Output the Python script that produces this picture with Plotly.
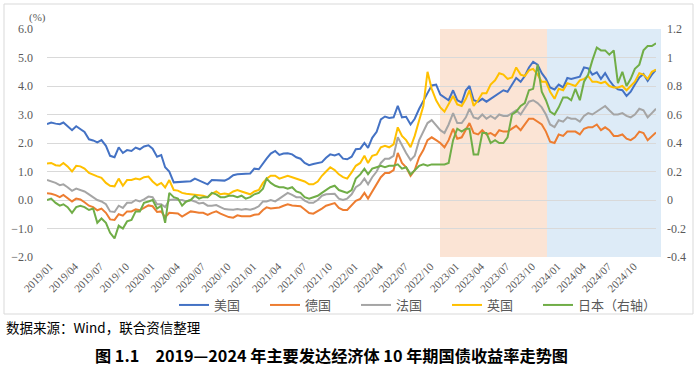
import plotly.graph_objects as go

# ---------------- data (semi-monthly readings, %) ----------------
dates = []
for yr in range(2019, 2025):
    for mo in range(1, 13):
        dates.append(f"{yr}-{mo:02d}-01")
        dates.append(f"{yr}-{mo:02d}-16")
dates.append("2024-12-31")

us = [2.66, 2.72, 2.68, 2.66, 2.72, 2.59, 2.45, 2.59, 2.50, 2.39, 2.13, 2.09, 2.02, 2.10, 1.90, 1.55, 1.50, 1.85, 1.65, 1.75, 1.72, 1.84, 1.78, 1.88,
      1.92, 1.80, 1.52, 1.58, 1.15, 1.00, 0.62, 0.63, 0.62, 0.65, 0.66, 0.75, 0.68, 0.62, 0.55, 0.70, 0.70, 0.69, 0.68, 0.75, 0.87, 0.90, 0.92, 0.92,
      0.93, 1.10, 1.08, 1.30, 1.45, 1.63, 1.72, 1.58, 1.63, 1.64, 1.60, 1.50, 1.45, 1.30, 1.22, 1.26, 1.30, 1.33, 1.48, 1.60, 1.56, 1.62, 1.45, 1.43,
      1.52, 1.78, 1.80, 2.00, 1.83, 2.18, 2.39, 2.83, 2.93, 2.88, 2.90, 3.30, 2.90, 2.92, 2.65, 2.85, 3.20, 3.45, 3.75, 4.02, 4.05, 3.70, 3.60, 3.50,
      3.85, 3.50, 3.42, 3.85, 4.00, 3.50, 3.45, 3.55, 3.45, 3.55, 3.65, 3.75, 3.85, 3.80, 4.05, 4.28, 4.15, 4.35, 4.65, 4.85, 4.75, 4.45, 4.25, 3.95,
      3.88, 4.05, 3.95, 4.28, 4.25, 4.30, 4.33, 4.65, 4.62, 4.40, 4.48, 4.25, 4.45, 4.20, 4.00, 3.88, 3.85, 3.65, 3.80, 4.05, 4.30, 4.42, 4.18, 4.40,
      4.57]

de = [0.24, 0.22, 0.17, 0.10, 0.18, 0.08, -0.05, 0.05, 0.02, -0.08, -0.20, -0.25, -0.36, -0.30, -0.45, -0.68, -0.70, -0.50, -0.55, -0.40, -0.40, -0.33, -0.36, -0.28,
      -0.19, -0.22, -0.42, -0.40, -0.61, -0.45, -0.45, -0.47, -0.58, -0.50, -0.40, -0.42, -0.45, -0.45, -0.52, -0.45, -0.40, -0.48, -0.53, -0.60, -0.62, -0.54, -0.57, -0.58,
      -0.57, -0.52, -0.50, -0.35, -0.26, -0.30, -0.29, -0.26, -0.20, -0.15, -0.19, -0.20, -0.22, -0.33, -0.46, -0.48, -0.40, -0.30, -0.20, -0.15, -0.11, -0.28, -0.35, -0.35,
      -0.18, -0.03, 0.04, 0.25, 0.05, 0.30, 0.55, 0.80, 0.95, 0.95, 1.05, 1.65, 1.30, 1.15, 0.85, 1.05, 1.50, 1.75, 2.10, 2.20, 2.10, 2.00, 1.85, 2.10,
      2.50, 2.15, 2.20, 2.45, 2.70, 2.35, 2.30, 2.45, 2.30, 2.35, 2.25, 2.45, 2.40, 2.40, 2.50, 2.60, 2.45, 2.65, 2.85, 2.85, 2.75, 2.65, 2.40, 2.05,
      2.00, 2.30, 2.25, 2.40, 2.40, 2.40, 2.30, 2.50, 2.55, 2.55, 2.65, 2.45, 2.55, 2.45, 2.25, 2.25, 2.30, 2.15, 2.10, 2.20, 2.40, 2.35, 2.10, 2.25,
      2.37]

fr = [0.70, 0.65, 0.60, 0.52, 0.55, 0.45, 0.32, 0.40, 0.35, 0.30, 0.20, 0.10, 0.00, -0.05, -0.15, -0.40, -0.42, -0.20, -0.28, -0.10, -0.10, 0.00, -0.05, 0.02,
      0.12, 0.10, -0.15, -0.15, -0.25, 0.00, 0.02, 0.00, 0.00, -0.05, 0.00, -0.05, -0.12, -0.10, -0.20, -0.20, -0.18, -0.25, -0.32, -0.33, -0.34, -0.32, -0.34, -0.32,
      -0.34, -0.30, -0.22, -0.05, -0.05, 0.00, -0.05, 0.05, 0.15, 0.25, 0.18, 0.10, 0.10, -0.02, -0.10, -0.10, 0.00, 0.15, 0.20, 0.20, 0.22, 0.05, 0.00, 0.05,
      0.20, 0.45, 0.55, 0.75, 0.55, 0.80, 1.00, 1.30, 1.45, 1.45, 1.55, 2.20, 1.90, 1.65, 1.40, 1.55, 2.10, 2.40, 2.70, 2.80, 2.60, 2.45, 2.35, 2.65,
      3.05, 2.70, 2.70, 2.90, 3.20, 2.90, 2.85, 3.00, 2.85, 2.95, 2.85, 3.00, 2.95, 2.95, 3.05, 3.15, 3.00, 3.25, 3.45, 3.50, 3.40, 3.25, 3.00, 2.65,
      2.56, 2.80, 2.75, 2.90, 2.85, 2.85, 2.75, 2.95, 3.05, 3.00, 3.10, 3.20, 3.30, 3.15, 3.00, 3.00, 3.05, 2.95, 2.90, 3.00, 3.20, 3.15, 2.90, 3.05,
      3.20]

uk = [1.28, 1.30, 1.22, 1.20, 1.30, 1.18, 1.00, 1.20, 1.18, 1.10, 0.95, 0.88, 0.83, 0.78, 0.60, 0.50, 0.48, 0.75, 0.50, 0.70, 0.70, 0.75, 0.72, 0.80,
      0.82, 0.65, 0.52, 0.60, 0.44, 0.70, 0.35, 0.33, 0.25, 0.22, 0.20, 0.20, 0.17, 0.15, 0.10, 0.22, 0.30, 0.20, 0.23, 0.20, 0.30, 0.35, 0.30, 0.25,
      0.20, 0.30, 0.35, 0.60, 0.75, 0.85, 0.85, 0.75, 0.80, 0.85, 0.80, 0.75, 0.72, 0.65, 0.55, 0.55, 0.65, 0.85, 1.00, 1.15, 1.05, 0.90, 0.80, 0.75,
      0.97, 1.20, 1.30, 1.55, 1.30, 1.55, 1.60, 1.85, 1.90, 1.85, 1.95, 2.55, 2.25, 2.10, 1.85, 2.25, 2.80, 3.30, 4.50, 3.90, 3.50, 3.25, 3.10, 3.35,
      3.65, 3.35, 3.30, 3.55, 3.85, 3.30, 3.50, 3.75, 3.75, 4.05, 4.20, 4.45, 4.40, 4.25, 4.30, 4.65, 4.40, 4.35, 4.55, 4.60, 4.40, 4.15, 4.15, 3.80,
      3.55, 3.90, 3.85, 4.10, 4.05, 4.00, 4.20, 4.25, 4.35, 4.15, 4.15, 4.10, 4.15, 4.00, 3.95, 3.95, 4.00, 3.85, 4.00, 4.15, 4.45, 4.40, 4.25, 4.50,
      4.57]

jp = [0.00, 0.01, -0.02, -0.04, -0.03, -0.05, -0.09, -0.05, -0.04, -0.05, -0.07, -0.06, -0.16, -0.13, -0.16, -0.23, -0.27, -0.18, -0.20, -0.15, -0.14, -0.08, -0.08, -0.02,
      -0.01, 0.00, -0.06, -0.04, -0.16, 0.05, 0.02, 0.01, -0.04, -0.01, 0.00, 0.03, 0.01, 0.02, 0.02, 0.05, 0.04, 0.02, 0.02, 0.03, 0.03, 0.02, 0.03, 0.01,
      0.02, 0.04, 0.05, 0.08, 0.15, 0.12, 0.10, 0.09, 0.09, 0.08, 0.09, 0.06, 0.05, 0.02, 0.01, 0.02, 0.03, 0.05, 0.07, 0.09, 0.10, 0.07, 0.06, 0.05,
      0.07, 0.15, 0.18, 0.22, 0.18, 0.22, 0.23, 0.24, 0.23, 0.24, 0.24, 0.25, 0.22, 0.23, 0.18, 0.21, 0.24, 0.25, 0.24, 0.25, 0.25, 0.25, 0.25, 0.26,
      0.42, 0.50, 0.48, 0.50, 0.50, 0.32, 0.32, 0.47, 0.47, 0.40, 0.42, 0.40, 0.40, 0.44, 0.60, 0.62, 0.66, 0.68, 0.77, 0.78, 0.95, 0.76, 0.70, 0.62,
      0.60, 0.65, 0.72, 0.72, 0.70, 0.78, 0.70, 0.83, 0.88, 0.98, 1.07, 1.05, 1.05, 1.02, 1.05, 0.82, 0.90, 0.80, 0.85, 0.92, 0.95, 1.05, 1.08, 1.08,
      1.10]

series_names = ["美国", "德国", "法国", "英国", "日本（右轴）"]
series_colors = ["#4472C4", "#ED7D31", "#A5A5A5", "#FFC000", "#70AD47"]

x_tick_vals = [f"{yr}-{mo:02d}-01" for yr in range(2019, 2025) for mo in (1, 4, 7, 10)]
x_tick_text = [f"{yr}/{mo:02d}" for yr in range(2019, 2025) for mo in (1, 4, 7, 10)]
left_ticks = [-2, -1, 0, 1, 2, 3, 4, 5, 6]
right_ticks = [-0.4, -0.2, 0, 0.2, 0.4, 0.6, 0.8, 1.0, 1.2]
right_text = ["-0.4", "-0.2", "0", "0.2", "0.4", "0.6", "0.8", "1", "1.2"]

# ---------------- figure ----------------
W, H = 700, 368
L, R, T, B = 47, 44, 29, 111
pw, ph = W - L - R, H - T - B

def px_x(p):
    return (p - L) / pw

def px_y(p):
    return (H - B - p) / ph

fig = go.Figure()
for vals, name, col in zip([us, de, fr, uk], series_names[:4], series_colors[:4]):
    fig.add_trace(go.Scatter(x=dates, y=vals, name=name, mode="lines",
                             line=dict(color=col, width=2)))
fig.add_trace(go.Scatter(x=dates, y=jp, name=series_names[4], mode="lines",
                         line=dict(color=series_colors[4], width=2), yaxis="y2"))
# invisible spacer entry so the last legend label is not clipped
fig.add_trace(go.Scatter(x=[None], y=[None], name=" ", mode="lines",
                         line=dict(color="rgba(0,0,0,0)", width=0), hoverinfo="skip"))

# shaded periods (2023 and 2024), placed as in the reference drawing
shapes = [
    dict(type="rect", xref="paper", yref="y", x0=px_x(440), x1=px_x(547), y0=-2, y1=6,
         fillcolor="#FBE4D5", line=dict(width=0), layer="below"),
    dict(type="rect", xref="paper", yref="y", x0=px_x(547), x1=px_x(661), y0=-2, y1=6,
         fillcolor="#DDEBF7", line=dict(width=0), layer="below"),
    dict(type="rect", xref="paper", yref="paper",
         x0=px_x(4), x1=px_x(693), y0=px_y(314), y1=px_y(4),
         line=dict(color="#D9D9D9", width=1), fillcolor="rgba(0,0,0,0)", layer="above"),
]

tickfont = dict(family="Liberation Serif", size=12, color="#595959")

fig.update_layout(
    width=W, height=H,
    margin=dict(l=L, r=R, t=T, b=B, autoexpand=False),
    paper_bgcolor="white", plot_bgcolor="rgba(0,0,0,0)",
    showlegend=True,
    legend=dict(orientation="h", x=px_x(174), y=px_y(305), xanchor="left", yanchor="middle",
                font=dict(family="Noto Sans CJK SC", size=13, color="#595959"),
                entrywidth=46, entrywidthmode="pixels", traceorder="normal",
                bgcolor="rgba(0,0,0,0)", itemwidth=30),
    xaxis=dict(type="date", range=["2019-01-01", "2024-12-31"], tickvals=x_tick_vals,
               ticktext=x_tick_text, tickangle=-45, ticklabelshift=3,
               tickfont=dict(family="Liberation Serif", size=11, color="#595959"),
               showgrid=False, zeroline=False, showline=False, ticks="", automargin=False),
    yaxis=dict(range=[-2, 6], tickvals=left_ticks, tickformat=".1f", tickfont=tickfont,
               showgrid=True, gridcolor="#D9D9D9", gridwidth=1, zeroline=False,
               ticks="", ticklabelstandoff=13, automargin=False),
    yaxis2=dict(range=[-0.4, 1.2], overlaying="y", side="right", tickvals=right_ticks,
                ticktext=right_text, tickfont=tickfont, showgrid=False, zeroline=False,
                ticks="", ticklabelstandoff=10, automargin=False),
    shapes=shapes,
    annotations=[
        dict(text="(%)", xref="paper", yref="paper", x=px_x(48), y=px_y(17), xanchor="right",
             yanchor="middle", showarrow=False, font=dict(family="Liberation Serif", size=11, color="#595959")),
        dict(text="数据来源：Wind，联合资信整理", xref="paper", yref="paper", x=px_x(4), y=px_y(327),
             xanchor="left", yanchor="middle", showarrow=False,
             font=dict(family="Noto Sans CJK SC", size=13.5, color="#000000")),
        dict(text="<b>图 1.1　2019—2024 年主要发达经济体 10 年期国债收益率走势图</b>", xref="paper", yref="paper",
             x=px_x(331), y=px_y(355), xanchor="center", yanchor="middle", showarrow=False,
             font=dict(family="Noto Sans CJK SC", size=16.2, color="#000000")),
    ],
)

fig.write_html("out.html", config={"displayModeBar": False},
               post_script="document.body.style.margin='0';document.body.style.overflow='hidden';")
